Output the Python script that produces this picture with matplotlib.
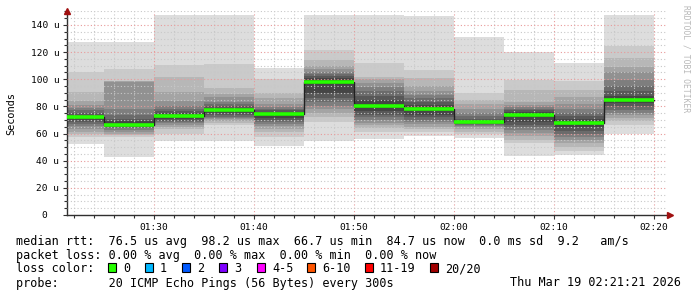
import matplotlib
matplotlib.use("Agg")
import matplotlib.pyplot as plt
from matplotlib.ticker import MultipleLocator, FuncFormatter
from matplotlib.patches import Rectangle

W, H = 697, 297
MONO = "DejaVu Sans Mono"

# segment end times (minutes after midnight), each covers the 5 min before
seg_end = [85, 90, 95, 100, 105, 110, 115, 120, 125, 130, 135, 140]
median = [72.0, 66.6, 73.2, 77.4, 74.6, 98.2, 80.6, 78.3, 68.3, 73.9, 68.0, 84.7]

# 20 sorted ping rtts per round (microseconds)
p0125 = [52.3, 57.7, 59.5, 61.5, 63.5, 65.5, 67, 68.5, 70, 71.3, 72.5, 74, 75.5, 77, 78.6, 81, 84.2, 90.6, 105.4, 127.7]
p0130 = [43, 57.2, 58.8, 60, 61.5, 62.8, 64, 65, 66, 66.5, 67, 69, 71, 74, 78, 98, 98.7, 99, 107.4, 127.7]
p0135 = [54.8, 59.7, 63.2, 65, 66.5, 67.5, 68.5, 69.5, 71, 72.3, 73.8, 75, 76.5, 78, 80, 84.2, 90.9, 101.5, 110.5, 147.4]
p0140 = [54.8, 66, 67.5, 69.5, 70.5, 71.5, 72.5, 73.5, 75, 76.5, 77.8, 79, 80.5, 82, 83.5, 86.7, 89.5, 93.3, 111, 147.4]
p0145 = [50.8, 57.7, 61.4, 63.5, 65.5, 67, 68.5, 70, 71.5, 73, 75.2, 76, 77, 78, 79.5, 82, 86, 90, 100, 108]
p0150 = [54.3, 68.8, 72, 75, 78, 80.5, 83, 86, 90, 96.5, 99.5, 101, 102.5, 104, 105.6, 107.5, 109.5, 114, 121.6, 147.4]
p0155 = [56, 61.4, 64, 66, 68, 70, 72, 74, 76.5, 79, 82, 85, 88, 91, 94, 97, 100, 102, 112, 147.4]
p0200 = [58.4, 61, 63, 65, 67, 68.5, 70, 72, 74, 76.5, 79, 81, 83.5, 86, 88.4, 91, 95, 100.7, 107, 146.6]
p0205 = [57, 59.5, 61.5, 63, 64.5, 65.5, 66.5, 67.3, 67.8, 68.2, 68.8, 69.5, 71, 73, 75, 78, 81.5, 84.7, 89.8, 131.4]
p0210 = [43.7, 52.8, 55.5, 58, 60.5, 62.6, 64.5, 66.5, 68.5, 72, 75, 76.2, 77.2, 78.2, 79.5, 81, 83.5, 92, 99.3, 120]
p0215 = [44, 47.2, 50.3, 53, 55.5, 57.7, 60, 62, 64.5, 66.8, 69, 71, 73, 75, 78, 82, 86.7, 92, 98.5, 112.3]
p0220 = [59.5, 66.3, 69, 71.3, 73.5, 75.5, 77.4, 80, 82.5, 84.2, 85.5, 88, 91, 95, 99.5, 105.6, 109.3, 115.5, 124.5, 147.4]
pings = [p0125, p0130, p0135, p0140, p0145, p0150, p0155, p0200, p0205, p0210, p0215, p0220]

loss_labels = ["0", "1", "2", "3", "4-5", "6-10", "11-19", "20/20"]
loss_colors = ["#26ff00", "#00b8ff", "#0059ff", "#7e00ff", "#ff00ff", "#ff5500", "#ff0000", "#a10000"]

line1 = "median rtt:  76.5 us avg  98.2 us max  66.7 us min  84.7 us now  0.0 ms sd  9.2   am/s"
line2 = "packet loss: 0.00 % avg  0.00 % max  0.00 % min  0.00 % now"
probe = "probe:       20 ICMP Echo Pings (56 Bytes) every 300s"
stamp = "Thu Mar 19 02:21:21 2026"

t0, t1 = 81.35, 141.35


def px(x, y):
    return x / W, 1 - y / H


fig = plt.figure(figsize=(W / 100, H / 100), dpi=100)
fig.patch.set_facecolor("white")
ax = fig.add_axes([67 / W, 82 / H, 600 / W, 203.6 / H])

# smoke: nested bands, outermost lightest
edges = [seg_end[0] - 5] + seg_end
n = len(pings[0])
half = n // 2
for i in range(half):
    g = int(190 / half * (half - 1 - i)) + 50
    col = "#%02x%02x%02x" % (g, g, g)
    lo = [p[i] for p in pings]
    hi = [p[n - 1 - i] for p in pings]
    ax.fill_between(edges, lo + [lo[-1]], hi + [hi[-1]], step="post",
                    color=col, lw=0, antialiased=False, zorder=1)

ax.step(edges, median + [median[-1]], where="post", color="#202020", lw=1, zorder=3)
ax.hlines(median, edges[:-1], edges[1:], color=loss_colors[0], lw=2.6, zorder=4)

ax.set_xlim(t0, t1)
ax.set_ylim(0, 150)
ax.xaxis.set_major_locator(MultipleLocator(10))
ax.xaxis.set_minor_locator(MultipleLocator(2))
ax.yaxis.set_major_locator(MultipleLocator(20))
ax.yaxis.set_minor_locator(MultipleLocator(5))
ax.xaxis.set_major_formatter(FuncFormatter(lambda v, p: "%02d:%02d" % (int(v) // 60, int(v) % 60)))
ax.yaxis.set_major_formatter(FuncFormatter(lambda v, p: "0  " if v == 0 else "%d u" % v))
ax.set_axisbelow(False)
ax.grid(which="minor", color="#c8c8c8", linestyle=(0, (1, 2)), lw=0.8)
ax.grid(which="major", color="#e89a9a", linestyle=(0, (1, 2)), lw=0.8)
for s in ["top", "right"]:
    ax.spines[s].set_visible(False)
for s in ["left", "bottom"]:
    ax.spines[s].set_color("#303030")
    ax.spines[s].set_linewidth(1)
ax.tick_params(which="both", direction="out", colors="#303030", labelcolor="black")
ax.tick_params(which="major", length=3, width=0.8)
ax.tick_params(which="minor", length=2, width=0.8)
ax.tick_params(axis="x", which="major", pad=3)
ax.tick_params(axis="y", which="major", pad=2.5)
for lab in ax.get_xticklabels() + ax.get_yticklabels():
    lab.set_fontfamily(MONO)
    lab.set_fontsize(6.8)
ax.set_ylabel("Seconds", fontfamily=MONO, fontsize=7.4, labelpad=10)

# axis arrows
ax.plot([0], [1.0], marker="^", ms=4, color="#a01010", transform=ax.transAxes, clip_on=False, zorder=6)
ax.plot([1.005], [0], marker=">", ms=4, color="#a01010", transform=ax.transAxes, clip_on=False, zorder=6)

# watermark
fig.text(*px(686, 5), "RRDTOOL / TOBI OETIKER", rotation=-90, ha="center", va="top",
         fontfamily=MONO, fontsize=5.8, color="#b8b8b8")

# legend block
fs = 8.5
fig.text(*px(16, 241.5), line1, fontfamily=MONO, fontsize=fs, va="center")
fig.text(*px(16, 255.5), line2, fontfamily=MONO, fontsize=fs, va="center")
fig.text(*px(16, 269), "loss color:", fontfamily=MONO, fontsize=fs, va="center")
fig.text(*px(16, 283), probe, fontfamily=MONO, fontsize=fs, va="center")
fig.text(*px(681, 283), stamp, fontfamily=MONO, fontsize=fs, va="center", ha="right")

box_x = [108, 145, 182, 219, 257, 307, 365, 430]
for bx, lab, col in zip(box_x, loss_labels, loss_colors):
    x0, y0 = px(bx, 271.5)
    fig.patches.append(Rectangle((x0, y0), 8 / W, 8.5 / H, transform=fig.transFigure,
                                 facecolor=col, edgecolor="black", lw=0.8))
    fig.text(*px(bx + 15, 269), lab, fontfamily=MONO, fontsize=fs, va="center")

fig.savefig("out.png", dpi=100, facecolor="white")
